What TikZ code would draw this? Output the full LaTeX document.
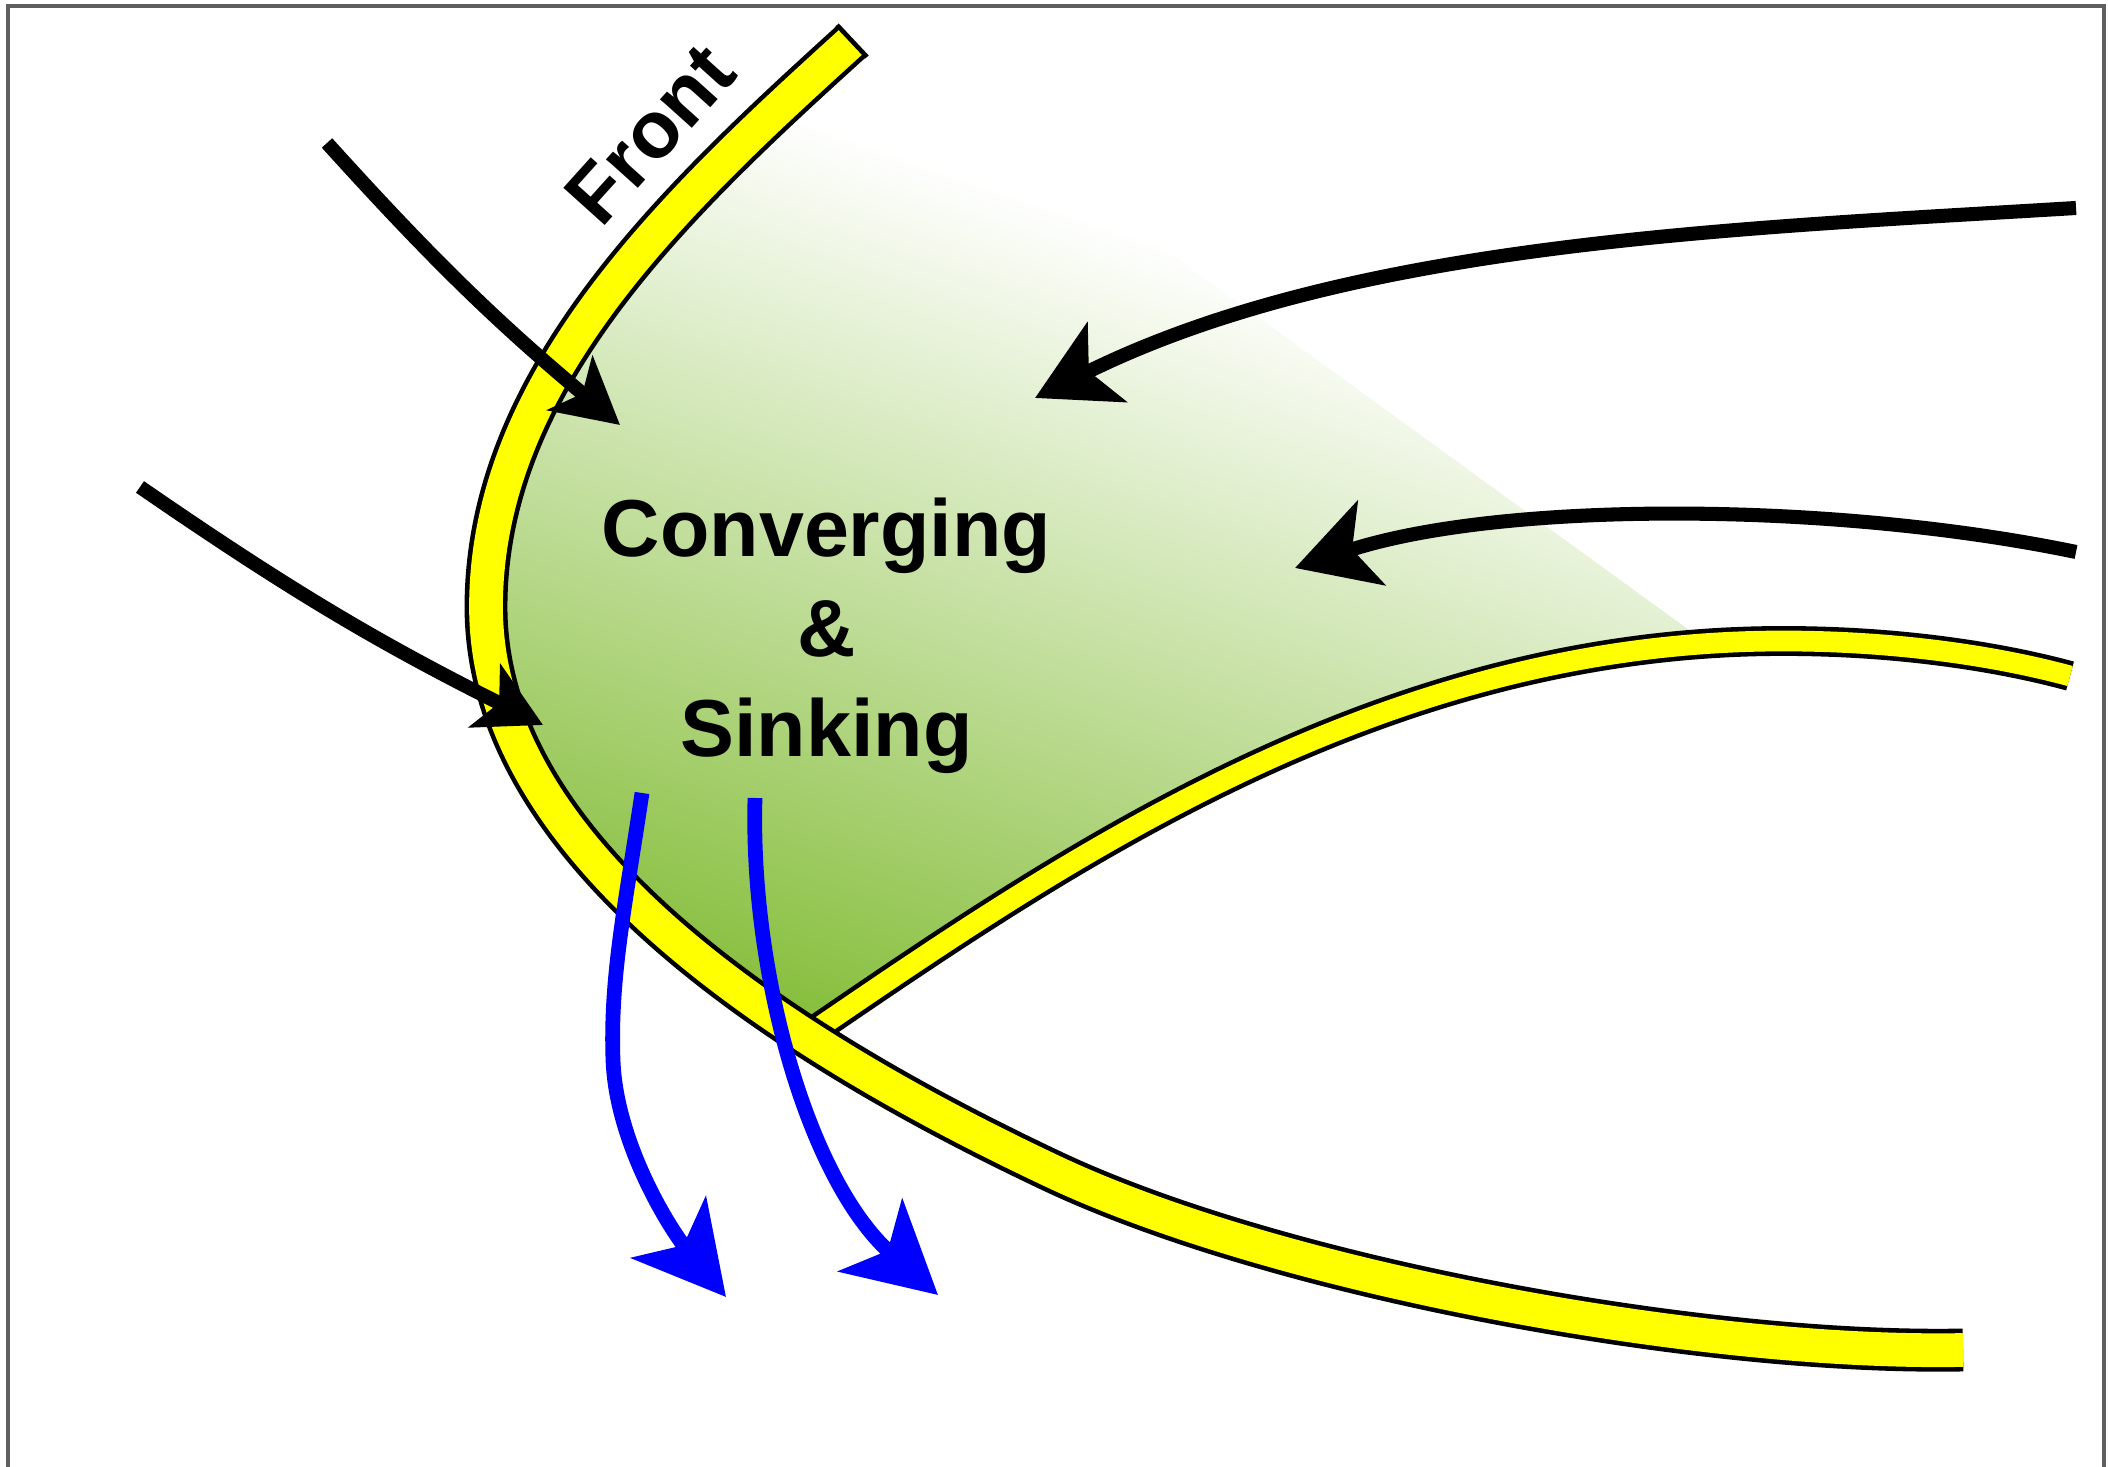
\documentclass[tikz,border=0pt]{standalone}
\usepackage{fontspec}
\setmainfont{Liberation Sans}
\usetikzlibrary{arrows.meta}

\definecolor{frontyellow}{RGB}{255,255,0}
\definecolor{sinkgreen}{RGB}{132,189,56}
\definecolor{framegray}{RGB}{95,95,95}

\begin{document}
\begin{tikzpicture}[>=Stealth,
    mainfront/.style={insert path={(8.52,14.26) .. controls (6.8,12.7) and (4.86,10.9) .. (4.86,8.60)
        .. controls (4.86,6.30) and (7.46,4.40) .. (10.54,2.95)
        .. controls (12.80,1.89) and (17.0,1.12) .. (19.63,1.17)}},
    branchfront/.style={insert path={(8.05,4.30) .. controls (10.64,6.07) and (13.8,8.26) .. (17.83,8.26)
        .. controls (19.0,8.26) and (20.0,8.10) .. (20.70,7.91)}},
    frontband/.style={draw=black, line width=1.3pt, double=frontyellow, double distance=9.6pt},
    branchband/.style={draw=black, line width=1.3pt, double=frontyellow, double distance=5.9pt},
    windarrow/.style={black, line width=4pt, -{Stealth[length=8mm, width=8.8mm, inset=2mm]}},
    sidearrow/.style={black, line width=4pt, -{Stealth[length=6.5mm, width=7mm, inset=1.6mm]}},
    sinkarrow/.style={blue, line width=4.2pt, -{Stealth[length=9mm, width=9.6mm, inset=2.3mm]}},
    bigtext/.style={font=\bfseries\fontsize{23}{28.4}\selectfont, text=black}]

\useasboundingbox (0,0) rectangle (21.08,14.67);

% frame (open at the bottom)
\draw[framegray, line width=0.9pt] (0.08,0) -- (0.08,14.61) -- (21.04,14.61) -- (21.04,0);

% =========================================================
%  Converging zone: green wedge between the two fronts
% =========================================================
\begin{scope}
    \clip[mainfront] -- (21.08,1.17) -- (21.08,14.67) -- (8.52,14.67) -- cycle;
    \clip[branchfront] -- (21.08,7.91) -- (21.08,14.67) -- (0,14.67) -- (0,4.30) -- cycle;
    \clip (5.5,16.64) -- (22,4.66) -- (22,-1) -- (-1,-1) -- (-1,16.64) -- cycle;
    \begin{scope}[transform canvas={rotate around={-19:(8.05,4.30)}}]
        \shade[bottom color=sinkgreen, top color=white] (-4,4.30) rectangle (20,12.99);
    \end{scope}
\end{scope}

% =========================================================
%  Fronts (yellow bands)
% =========================================================
\draw[branchband, branchfront];
\draw[frontband, mainfront];
\draw[black, line width=1.3pt] (8.37,14.42) -- (8.67,14.10); % closed top end

% =========================================================
%  Inflow (black) and sinking (blue) arrows
% =========================================================
\draw[sidearrow] (3.27,13.24) to[bend right=4] (6.20,10.42);
\draw[sidearrow] (1.40,9.80) to[bend right=4] (5.43,7.42);

\draw[windarrow] (20.76,12.59) .. controls (17.3,12.38) and (13.5,12.25) .. (10.35,10.69);
\draw[windarrow] (20.76,9.15) .. controls (18.3,9.66) and (15.0,9.66) .. (12.95,8.99);

\draw[sinkarrow] (6.42,6.74) .. controls (6.25,5.6) and (6.1,4.9) .. (6.13,4.07)
    .. controls (6.16,3.24) and (6.7,2.38) .. (7.26,1.70);
\draw[sinkarrow] (7.55,6.69) .. controls (7.5,4.9) and (8.1,2.85) .. (9.38,1.72);

% labels
\node[bigtext, rotate=48] (frontlabel) at (6.50,13.33) {Front};
\node[bigtext, align=center] (zonelabel) at (8.265,8.31) {Converging\\\&\\Sinking};

\end{tikzpicture}
\end{document}
